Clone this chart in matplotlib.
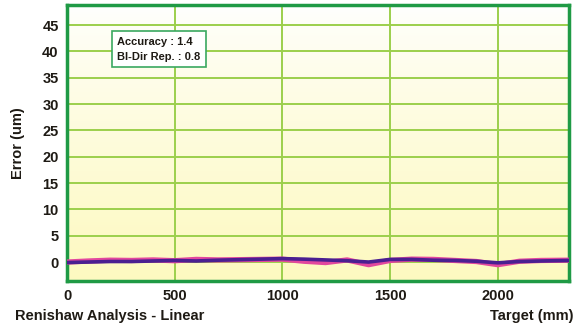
import numpy as np
import matplotlib
matplotlib.use('Agg')
from matplotlib import pyplot as plt

plt.rcParams['font.family'] = ['Liberation Sans Narrow', 'Liberation Sans', 'DejaVu Sans']
plt.rcParams['font.weight'] = 'bold'

# target positions (mm)
target = [0, 100, 200, 300, 400, 500, 600, 700, 800, 900, 1000, 1100,
          1200, 1300, 1400, 1500, 1600, 1700, 1800, 1900, 2000, 2100, 2200, 2330]
# error of the two runs (um)
err_fwd = [0.0, 0.2, 0.35, 0.3, 0.4, 0.25, 0.5, 0.4, 0.45, 0.5, 0.55, 0.15,
           -0.1, 0.4, -0.5, 0.3, 0.55, 0.5, 0.3, 0.1, -0.5, 0.15, 0.3, 0.35]
err_rev = [-0.1, 0.0, 0.1, 0.1, 0.2, 0.3, 0.2, 0.35, 0.45, 0.55, 0.65, 0.55,
           0.4, 0.25, 0.0, 0.5, 0.5, 0.35, 0.3, 0.15, -0.15, 0.1, 0.2, 0.3]
x_ticks = [0, 500, 1000, 1500, 2000]
y_ticks = [0, 5, 10, 15, 20, 25, 30, 35, 40, 45]
accuracy = 1.4
bidir_rep = 0.8

fig = plt.figure(figsize=(5.8, 3.32), dpi=100)
ax = fig.add_axes([67 / 580, 1 - 281 / 332, 502 / 580, 276 / 332])

# white-to-yellow background
grad = np.linspace(0, 1, 256).reshape(-1, 1)
top = np.array([1.0, 1.0, 1.0])
bot = np.array([0xfd, 0xf9, 0xc0]) / 255
img = top + (bot - top) * grad[:, :, None] ** 0.8
ax.imshow(img, extent=[0, 1, 0, 1], transform=ax.transAxes, aspect='auto', zorder=0)

ax.plot(target, err_fwd, color='#e2479e', lw=3.8, zorder=3)
ax.plot(target, err_rev, color='#4a1f91', lw=2.6, zorder=4)

ax.set_xlim(0, 2330)
ax.set_ylim(-3.6, 48.8)
ax.set_xticks(x_ticks)
ax.set_yticks(y_ticks)
ax.grid(True, color='#9ccf4c', lw=1.4, zorder=1)
ax.set_axisbelow(True)
ax.tick_params(length=0, labelsize=10.5, colors='#1e1a14', pad=6)
for lbl in ax.get_xticklabels() + ax.get_yticklabels():
    lbl.set_fontweight('bold')
for sp in ax.spines.values():
    sp.set_color('#1f9a45')
    sp.set_linewidth(2.5)

ax.text(0.1, 0.885, 'Accuracy : ' + str(accuracy) + '\nBI-Dir Rep. : ' + str(bidir_rep),
        transform=ax.transAxes, fontsize=8, fontweight='bold', color='#1e1a14',
        va='top', ha='left', linespacing=1.6, zorder=5,
        bbox=dict(boxstyle='square,pad=0.5', fc='white', ec='#3aa860', lw=1.2))

fig.text(18 / 580, 1 - 143 / 332, 'Error (um)', rotation=90, ha='center', va='center',
         fontsize=10.5, fontweight='bold', color='#1e1a14')
fig.text(15 / 580, 1 - 316 / 332, 'Renishaw Analysis - Linear', ha='left', va='center',
         fontsize=10.5, fontweight='bold', color='#1e1a14')
fig.text(574 / 580, 1 - 316 / 332, 'Target (mm)', ha='right', va='center',
         fontsize=10.5, fontweight='bold', color='#1e1a14')

fig.savefig('out.png', dpi=100)
